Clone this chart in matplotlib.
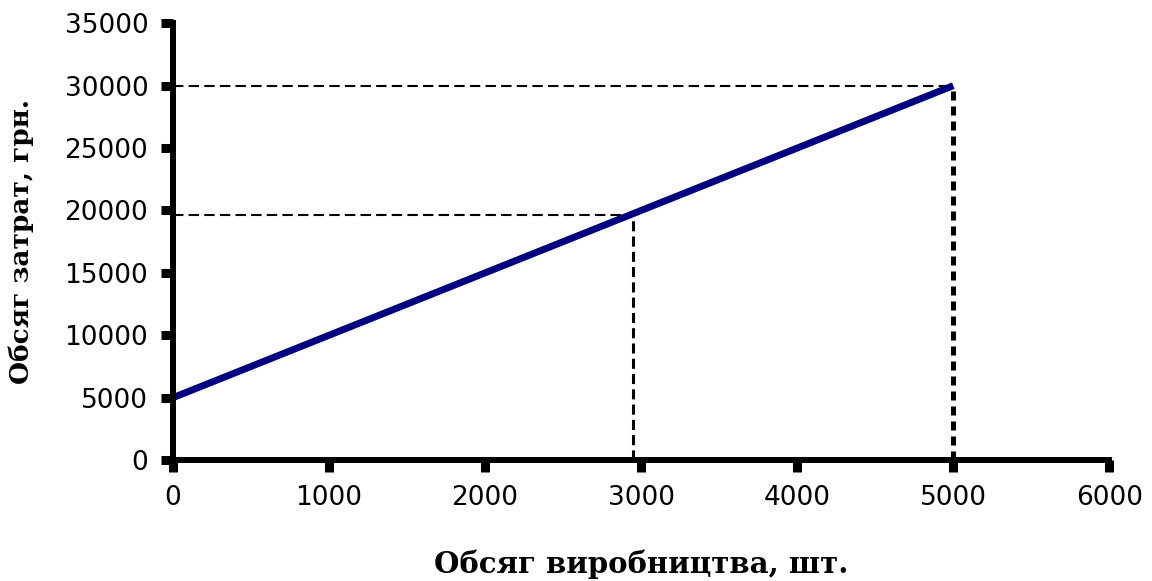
import matplotlib
matplotlib.use("Agg")
import matplotlib.pyplot as plt

# Дані графіка
obsyag = [0, 5000]          # обсяг виробництва, шт.
zatraty = [5000, 30000]     # обсяг затрат, грн.
tochka_x = 2950             # точка на лінії (пунктир)
tochka_y = 19600
max_x = 5000
max_y = 30000

xticks = [0, 1000, 2000, 3000, 4000, 5000, 6000]
yticks = [0, 5000, 10000, 15000, 20000, 25000, 30000, 35000]

plt.rcParams['font.family'] = ['DejaVu Sans']

fig = plt.figure(figsize=(11.52, 5.81), dpi=100)
ax = fig.add_axes([0.150, 0.208, 0.813, 0.752])

# Пунктирні лінії
ax.plot([0, tochka_x], [tochka_y, tochka_y], color="black", lw=1.5, ls=(0, (5, 2.5)))
ax.plot([tochka_x, tochka_x], [0, tochka_y], color="black", lw=2.2, ls=(0, (3.3, 1.7)))
ax.plot([0, max_x], [max_y, max_y], color="black", lw=1.5, ls=(0, (5, 2.5)))
ax.plot([max_x, max_x], [0, max_y], color="black", lw=3.6, ls=(0, (1.8, 1.2)))

# Основна лінія
ax.plot(obsyag, zatraty, color="#000080", lw=5, solid_capstyle="butt")

ax.set_xlim(0, 6000)
ax.set_ylim(0, 35000)
ax.set_xticks(xticks)
ax.set_yticks(yticks)
ax.tick_params(direction="out", length=8.6, width=6.5, labelsize=19)
ax.tick_params(axis="x", pad=9)
ax.tick_params(axis="y", pad=9)
for side in ["top", "right"]:
    ax.spines[side].set_visible(False)
for side in ["left", "bottom"]:
    ax.spines[side].set_linewidth(4.3)

ax.set_xlabel("Обсяг виробництва, шт.", family=["DejaVu Serif"],
              fontweight="bold", fontsize=21, labelpad=28)
ax.set_ylabel("Обсяг затрат, грн.", family=["DejaVu Serif"],
              fontweight="bold", fontsize=19, labelpad=22)

fig.savefig("out.png", dpi=100)
